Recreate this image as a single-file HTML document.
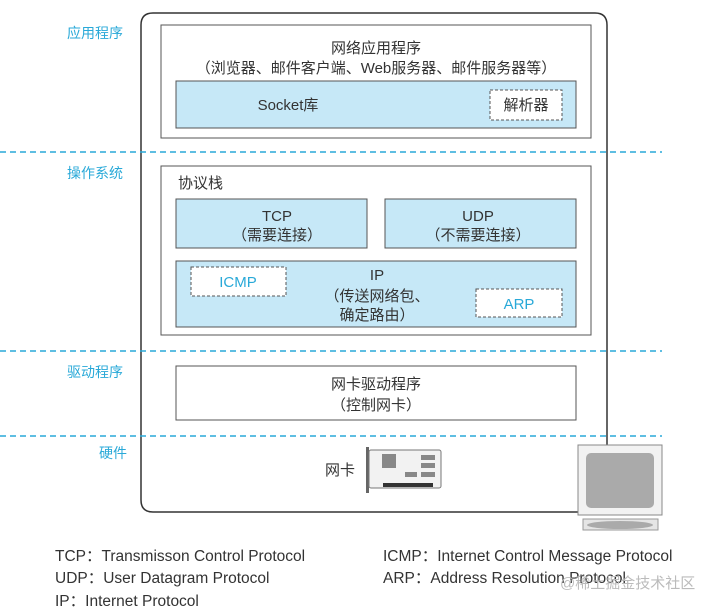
<!DOCTYPE html>
<html><head><meta charset="utf-8"><style>
body{margin:0;background:#fff}
svg text{font-family:"Liberation Sans","Noto Sans CJK SC",sans-serif;fill:#333}
</style></head><body>
<svg width="710" height="609" viewBox="0 0 710 609" xmlns="http://www.w3.org/2000/svg">
<g font-size="15">
<path d="M607 445 V25 Q607 13 595 13 H153 Q141 13 141 25 V500 Q141 512 153 512 H578" fill="none" stroke="#333" stroke-width="1.5"/>
<g stroke="#29a9d8" stroke-width="1.5" stroke-dasharray="6,4">
<line x1="0" y1="152" x2="662" y2="152"/><line x1="0" y1="351" x2="662" y2="351"/><line x1="0" y1="436" x2="662" y2="436"/>
</g>
<g font-size="14"><text x="67" y="38" style="fill:#29a9d8">应用程序</text><text x="67" y="178" style="fill:#29a9d8">操作系统</text><text x="67" y="377" style="fill:#29a9d8">驱动程序</text><text x="99" y="458" style="fill:#29a9d8">硬件</text></g>
<rect x="161" y="25" width="430" height="113" fill="#fff" stroke="#555"/>
<text x="376" y="53" text-anchor="middle">网络应用程序</text>
<text x="376" y="73" text-anchor="middle">（浏览器、邮件客户端、Web服务器、邮件服务器等）</text>
<rect x="176" y="81" width="400" height="47" fill="#c6e8f7" stroke="#555"/>
<text x="288" y="110" text-anchor="middle">Socket库</text>
<rect x="490" y="90" width="72" height="30" fill="#fff" stroke="#555" stroke-dasharray="3,2"/>
<text x="526" y="110" text-anchor="middle">解析器</text>
<rect x="161" y="166" width="430" height="169" fill="#fff" stroke="#555"/>
<text x="178" y="188">协议栈</text>
<rect x="176" y="199" width="191" height="49" fill="#c6e8f7" stroke="#555"/>
<text x="277" y="221" text-anchor="middle">TCP</text><text x="277" y="240" text-anchor="middle">（需要连接）</text>
<rect x="385" y="199" width="191" height="49" fill="#c6e8f7" stroke="#555"/>
<text x="478" y="221" text-anchor="middle">UDP</text><text x="478" y="240" text-anchor="middle">（不需要连接）</text>
<rect x="176" y="261" width="400" height="66" fill="#c6e8f7" stroke="#555"/>
<text x="377" y="280" text-anchor="middle">IP</text><text x="377" y="301" text-anchor="middle">（传送网络包、</text><text x="377" y="320" text-anchor="middle">确定路由）</text>
<rect x="191" y="267" width="95" height="29" fill="#fff" stroke="#555" stroke-dasharray="3,2"/>
<text x="238" y="287" text-anchor="middle" font-size="15" style="fill:#29a9d8">ICMP</text>
<rect x="476" y="289" width="86" height="28" fill="#fff" stroke="#555" stroke-dasharray="3,2"/>
<text x="519" y="309" text-anchor="middle" font-size="15" style="fill:#29a9d8">ARP</text>
<rect x="176" y="366" width="400" height="54" fill="#fff" stroke="#555"/>
<text x="376" y="389" text-anchor="middle">网卡驱动程序</text><text x="376" y="410" text-anchor="middle">（控制网卡）</text>
<text x="325" y="475">网卡</text>
<g>
<rect x="366" y="447" width="3" height="46" fill="#666"/>
<rect x="369" y="450" width="72" height="38" rx="2" fill="#f2f2f2" stroke="#777"/>
<rect x="382" y="454" width="14" height="14" fill="#888"/>
<rect x="421" y="455" width="14" height="5" fill="#888"/><rect x="421" y="463" width="14" height="5" fill="#888"/><rect x="421" y="472" width="14" height="5" fill="#888"/><rect x="405" y="472" width="12" height="5" fill="#888"/>
<rect x="383" y="483" width="50" height="4" fill="#333"/>
</g>
<g>
<rect x="578" y="445" width="84" height="70" fill="#f2f2f2" stroke="#888"/>
<rect x="586" y="453" width="68" height="55" rx="5" fill="#aaa"/>
<rect x="583" y="519" width="75" height="11" fill="#e5e5e5" stroke="#999"/>
<ellipse cx="620" cy="525" rx="33" ry="4" fill="#aaa"/>
</g>
<g font-size="15.5"><text x="55" y="561">TCP：Transmisson Control Protocol</text><text x="55" y="583">UDP：User Datagram Protocol</text><text x="55" y="606">IP：Internet Protocol</text>
<text x="383" y="561">ICMP：Internet Control Message Protocol</text><text x="383" y="583">ARP：Address Resolution Protocol</text></g>
<text x="560" y="588" font-size="15" style="fill:#bbb">@稀土掘金技术社区</text>
</g>
</svg>
</body></html>
